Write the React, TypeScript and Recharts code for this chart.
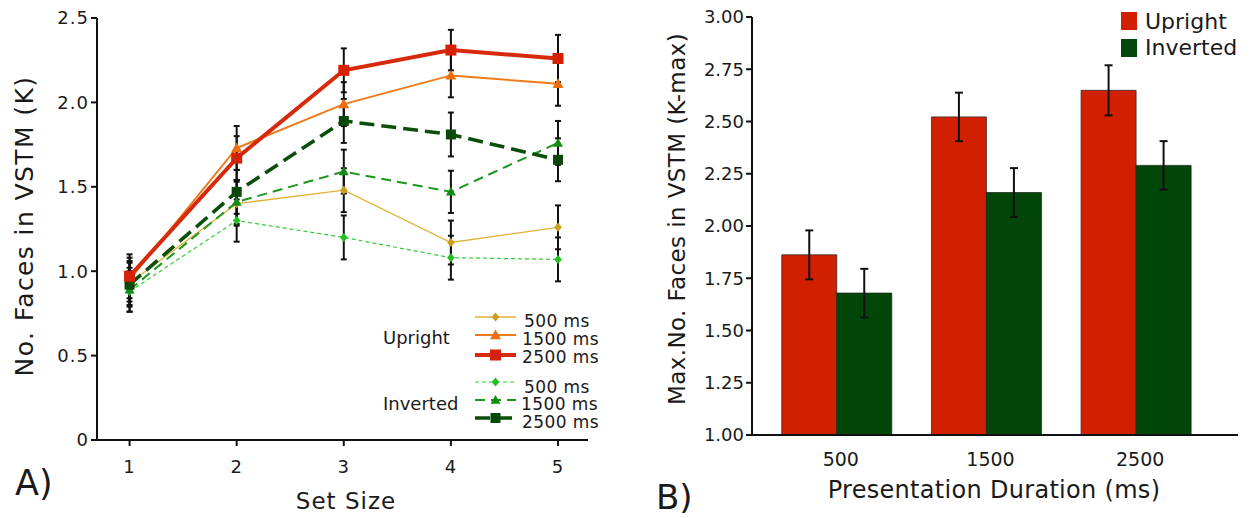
import React from "react";
import { LineChart, Line, XAxis, YAxis, ErrorBar, BarChart, Bar } from "recharts";

// panel A: capacity (K) by set size
const setSizes = [1, 2, 3, 4, 5];
const upright500 = [0.93, 1.4, 1.48, 1.17, 1.26];
const upright1500 = [0.95, 1.73, 1.99, 2.16, 2.11];
const upright2500 = [0.97, 1.67, 2.19, 2.31, 2.26];
const inverted500 = [0.88, 1.3, 1.2, 1.08, 1.07];
const inverted1500 = [0.89, 1.41, 1.59, 1.47, 1.76];
const inverted2500 = [0.92, 1.47, 1.89, 1.81, 1.66];
const upright500Err = [0.13, 0.13, 0.13, 0.13, 0.13];
const upright1500Err = [0.13, 0.13, 0.13, 0.13, 0.13];
const upright2500Err = [0.13, 0.13, 0.13, 0.12, 0.14];
const inverted500Err = [0.12, 0.125, 0.13, 0.13, 0.13];
const inverted1500Err = [0.13, 0.13, 0.13, 0.125, 0.13];
const inverted2500Err = [0.13, 0.13, 0.13, 0.13, 0.127];
const kTicks = [0, 0.5, 1, 1.5, 2, 2.5];

// panel B: max capacity by presentation duration
const durations = ["500", "1500", "2500"];
const uprightKmax = [1.862, 2.522, 2.649];
const invertedKmax = [1.679, 2.16, 2.29];
const uprightKmaxErr = [0.117, 0.116, 0.12];
const invertedKmaxErr = [0.116, 0.117, 0.116];
const kmaxTicks = [1, 1.25, 1.5, 1.75, 2, 2.25, 2.5, 2.75, 3];

const FONT = "'DejaVu Sans', Verdana, sans-serif";
const RED = "#d02000";
const DKGREEN = "#02460a";

const lineData = setSizes.map((s, i) => ({
  size: s,
  u500: upright500[i],
  u1500: upright1500[i],
  u2500: upright2500[i],
  i500: inverted500[i],
  i1500: inverted1500[i],
  i2500: inverted2500[i],
  u500e: upright500Err[i],
  u1500e: upright1500Err[i],
  u2500e: upright2500Err[i],
  i500e: inverted500Err[i],
  i1500e: inverted1500Err[i],
  i2500e: inverted2500Err[i],
}));

const barData = durations.map((d, i) => ({
  dur: d,
  upright: uprightKmax[i],
  inverted: invertedKmax[i],
  uprightErr: uprightKmaxErr[i],
  invertedErr: invertedKmaxErr[i],
}));

type Shape = "square" | "triangle" | "diamond";

function shapeEl(shape: Shape, cx: number, cy: number, size: number, fill: string, key?: any) {
  const h = size / 2;
  if (shape === "square")
    return <rect key={key} x={cx - h} y={cy - h} width={size} height={size} fill={fill} />;
  if (shape === "diamond")
    return (
      <polygon key={key} points={`${cx},${cy - h} ${cx + h * 0.85},${cy} ${cx},${cy + h} ${cx - h * 0.85},${cy}`} fill={fill} />
    );
  return (
    <polygon key={key} points={`${cx},${cy - h} ${cx + h},${cy + h * 0.75} ${cx - h},${cy + h * 0.75}`} fill={fill} />
  );
}

const marker = (shape: Shape, size: number, fill: string) => (props: any) => {
  const { cx, cy, index } = props;
  if (cx == null || cy == null) return <g key={index} />;
  return shapeEl(shape, cx, cy, size, fill, index);
};

const series = [
  { key: "i500", err: "i500e", color: "#33cc33", mark: "#22c022", shape: "diamond" as Shape, size: 9, width: 1.2, dash: "4 3" },
  { key: "u500", err: "u500e", color: "#e2b13a", mark: "#c9a016", shape: "diamond" as Shape, size: 9, width: 1.3, dash: undefined },
  { key: "i1500", err: "i1500e", color: "#1a961a", mark: "#138c13", shape: "triangle" as Shape, size: 10, width: 2, dash: "10 6" },
  { key: "u1500", err: "u1500e", color: "#ef7a1a", mark: "#ec6e0c", shape: "triangle" as Shape, size: 11, width: 2, dash: undefined },
  { key: "i2500", err: "i2500e", color: "#0b4f0b", mark: "#0a480a", shape: "square" as Shape, size: 10, width: 3.6, dash: "15 7" },
  { key: "u2500", err: "u2500e", color: "#d7290b", mark: "#d52206", shape: "square" as Shape, size: 11, width: 4, dash: undefined },
];

const tickStyle = { fontFamily: FONT, fontSize: 18, fill: "#1a1a1a", letterSpacing: 1 };

function LegendRow({ s, y }: { s: (typeof series)[number]; y: number }) {
  return (
    <g>
      <line x1={475} x2={516} y1={y} y2={y} stroke={s.color} strokeWidth={s.width} strokeDasharray={s.dash} />
      {shapeEl(s.shape, 495.5, y, s.size, s.mark)}
    </g>
  );
}

export default function App() {
  const byKey = (k: string) => series.find((s) => s.key === k)!;
  return (
    <div style={{ position: "absolute", left: 0, top: 0, width: 1252, height: 518, background: "#fff" }}>
      <div style={{ position: "absolute", left: 0, top: 0 }}>
        <LineChart width={640} height={518} data={lineData} margin={{ top: 18, right: 52, bottom: 0, left: 0 }}>
          <XAxis
            dataKey="size"
            type="number"
            domain={[0.696, 5.28]}
            ticks={setSizes}
            allowDataOverflow
            height={78}
            tickSize={6}
            tickMargin={14}
            stroke="#111"
            strokeWidth={2}
            tick={tickStyle}
          />
          <YAxis
            type="number"
            domain={[0, 2.5]}
            ticks={kTicks}
            allowDataOverflow
            width={97}
            tickSize={6}
            tickMargin={2}
            stroke="#111"
            strokeWidth={2}
            tick={tickStyle}
            tickFormatter={(v: number) => (v === 0 ? "0" : v.toFixed(1))}
          />
          {series.map((s) => (
            <Line
              key={s.key}
              dataKey={s.key}
              type="linear"
              stroke={s.color}
              strokeWidth={s.width}
              strokeDasharray={s.dash}
              dot={marker(s.shape, s.size, s.mark)}
              activeDot={false}
              isAnimationActive={false}
            >
              <ErrorBar dataKey={s.err} direction="y" width={3} stroke="#111" strokeWidth={2} />
            </Line>
          ))}
        </LineChart>
      </div>

      <div style={{ position: "absolute", left: 640, top: 0 }}>
        <BarChart
          width={612}
          height={518}
          data={barData}
          margin={{ top: 17, right: 14, bottom: 0, left: 0 }}
          barCategoryGap="13.2%"
          barGap={0}
        >
          <XAxis
            dataKey="dur"
            height={83}
            padding={{ left: 10, right: 27 }}
            tickLine={false}
            tickSize={0}
            tickMargin={18}
            stroke="#111"
            strokeWidth={2}
            tick={{ fontFamily: FONT, fontSize: 19, fill: "#1a1a1a", dx: 4 }}
          />
          <YAxis
            type="number"
            domain={[1, 3]}
            ticks={kmaxTicks}
            allowDataOverflow
            width={112}
            tickSize={6}
            tickMargin={2}
            stroke="#111"
            strokeWidth={2}
            tick={{ fontFamily: FONT, fontSize: 18, fill: "#1a1a1a" }}
            tickFormatter={(v: number) => v.toFixed(2)}
          />
          <Bar dataKey="upright" fill={RED} stroke="#3a2a28" strokeWidth={0.8} isAnimationActive={false}>
            <ErrorBar dataKey="uprightErr" direction="y" width={4} stroke="#111" strokeWidth={2} />
          </Bar>
          <Bar dataKey="inverted" fill={DKGREEN} stroke="#1a2a1a" strokeWidth={0.8} isAnimationActive={false}>
            <ErrorBar dataKey="invertedErr" direction="y" width={4} stroke="#111" strokeWidth={2} />
          </Bar>
        </BarChart>
      </div>

      <svg
        width={1252}
        height={518}
        style={{ position: "absolute", left: 0, top: 0, pointerEvents: "none" }}
        fontFamily={FONT}
        fill="#1a1a1a"
      >
        {/* panel A titles */}
        <text transform="translate(33,226) rotate(-90)" textAnchor="middle" fontSize={25} letterSpacing={1.4}>
          No. Faces in VSTM (K)
        </text>
        <text x={346} y={509} textAnchor="middle" fontSize={23} letterSpacing={1}>
          Set Size
        </text>
        <text x={15} y={495} fontSize={35}>
          A)
        </text>

        {/* panel A legend */}
        <text x={383} y={344} fontSize={18}>Upright</text>
        <text x={383} y={410} fontSize={18}>Inverted</text>
        <LegendRow s={byKey("u500")} y={317} />
        <LegendRow s={byKey("u1500")} y={335} />
        <LegendRow s={byKey("u2500")} y={355} />
        <LegendRow s={byKey("i500")} y={382} />
        <LegendRow s={byKey("i1500")} y={400} />
        <LegendRow s={byKey("i2500")} y={418} />
        <g fontSize={17} letterSpacing={0.4}>
          <text x={524} y={327}>500 ms</text>
          <text x={522} y={345}>1500 ms</text>
          <text x={522} y={363}>2500 ms</text>
          <text x={524} y={393}>500 ms</text>
          <text x={521} y={410}>1500 ms</text>
          <text x={522} y={428}>2500 ms</text>
        </g>

        {/* panel B titles */}
        <text transform="translate(685,219) rotate(-90)" textAnchor="middle" fontSize={23} letterSpacing={0.4}>
          Max.No. Faces in VSTM (K-max)
        </text>
        <text x={994} y={498} textAnchor="middle" fontSize={24} letterSpacing={0.3}>
          Presentation Duration (ms)
        </text>
        <text x={656} y={509} fontSize={34}>
          B)
        </text>

        {/* panel B legend */}
        <rect x={1121} y={12} width={16} height={18} fill={RED} />
        <rect x={1121} y={39} width={16} height={18} fill={DKGREEN} />
        <text x={1145} y={29} fontSize={22}>Upright</text>
        <text x={1145} y={55} fontSize={22}>Inverted</text>
      </svg>
    </div>
  );
}
